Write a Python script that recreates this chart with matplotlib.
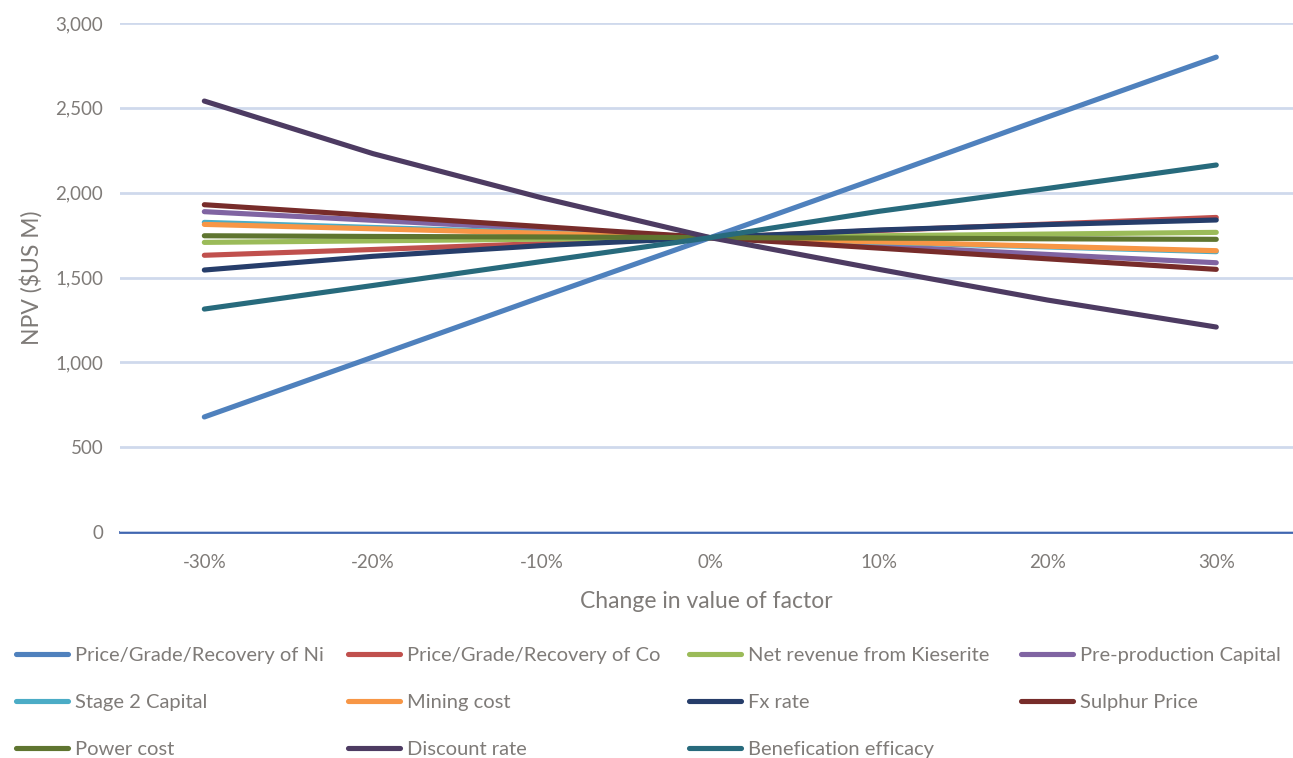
import numpy as np
import matplotlib
matplotlib.use("Agg")
import matplotlib.pyplot as plt
from matplotlib.lines import Line2D

plt.rcParams['font.family'] = ['Lato', 'DejaVu Sans']

# data
changes = ['-30%', '-20%', '-10%', '0%', '10%', '20%', '30%']
ni = [678, 1031, 1385, 1735, 2088, 2446, 2799]
co = [1631, 1665, 1700, 1735, 1777, 1815, 1854]
kieserite = [1707, 1716, 1726, 1735, 1746, 1756, 1766]
preprod = [1888, 1837, 1786, 1735, 1686, 1636, 1587]
stage2 = [1825, 1795, 1765, 1735, 1707, 1680, 1652]
mining = [1813, 1787, 1761, 1735, 1710, 1684, 1658]
fx = [1544, 1625, 1688, 1735, 1780, 1812, 1839]
sulphur = [1929, 1865, 1800, 1735, 1673, 1610, 1548]
power = [1746, 1742, 1739, 1735, 1732, 1728, 1725]
discount = [2540, 2230, 1970, 1735, 1548, 1367, 1208]
benef = [1314, 1453, 1594, 1735, 1890, 2025, 2163]

names = ['Price/Grade/Recovery of Ni', 'Price/Grade/Recovery of Co',
         'Net revenue from Kieserite', 'Pre-production Capital',
         'Stage 2 Capital', 'Mining cost', 'Fx rate', 'Sulphur Price',
         'Power cost', 'Discount rate', 'Benefication efficacy']
series = [ni, co, kieserite, preprod, stage2, mining, fx, sulphur, power, discount, benef]
colors = ['#4f81bd', '#c0504d', '#9bbb59', '#8064a2', '#4bacc6', '#f79646',
          '#263d6a', '#772c2a', '#5f7530', '#4d3b62', '#276a7c']

txt = '#7f7b78'

fig = plt.figure(figsize=(12.93, 7.58), dpi=100)
W, H = 1293, 758
ax = fig.add_axes([120/W, (H-532)/H, (1293-120)/W, 509/H])

x = np.arange(len(changes))
for s, c, n in zip(series, colors, names):
    ax.plot(x, s, color=c, lw=3.7, solid_capstyle='round', solid_joinstyle='round', label=n)

ax.set_xlim(-0.5, 6.455)
ax.set_ylim(0, 3000)
ax.set_yticks(np.arange(0, 3001, 500))
ax.set_yticklabels(['{:,}'.format(v) for v in range(0, 3001, 500)])
ax.set_xticks(x)
ax.set_xticklabels(changes)
ax.grid(axis='y', color='#cfd9ec', lw=2)
ax.set_axisbelow(True)
for sp in ['top', 'right', 'left']:
    ax.spines[sp].set_visible(False)
ax.spines['bottom'].set_color('#4066b0')
ax.spines['bottom'].set_linewidth(2)
ax.spines['bottom'].set_zorder(0.5)
ax.tick_params(axis='y', length=0, pad=12, labelsize=13.5, labelcolor=txt)
ax.tick_params(axis='x', length=0, pad=16, labelsize=13.5, labelcolor=txt)
ax.set_xlabel('Change in value of factor', fontsize=16.5, color=txt, labelpad=14)
ax.set_ylabel('NPV ($US M)', fontsize=16.5, color=txt, labelpad=9)

# legend, four columns placed separately
col_x = [8, 340, 681, 1013]
for c in range(4):
    idx = [i for i in range(c, len(names), 4)]
    handles = [Line2D([0], [0], color=colors[i], lw=3.7, solid_capstyle='round') for i in idx]
    leg = fig.legend(handles, [names[i] for i in idx], loc='upper left',
                     bbox_to_anchor=(col_x[c]/W, 1 - 639/H), frameon=False,
                     fontsize=14.5, labelcolor=txt, handlelength=2.6, handletextpad=0.35,
                     labelspacing=1.48, borderaxespad=0)

fig.savefig('out.png', dpi=100)
